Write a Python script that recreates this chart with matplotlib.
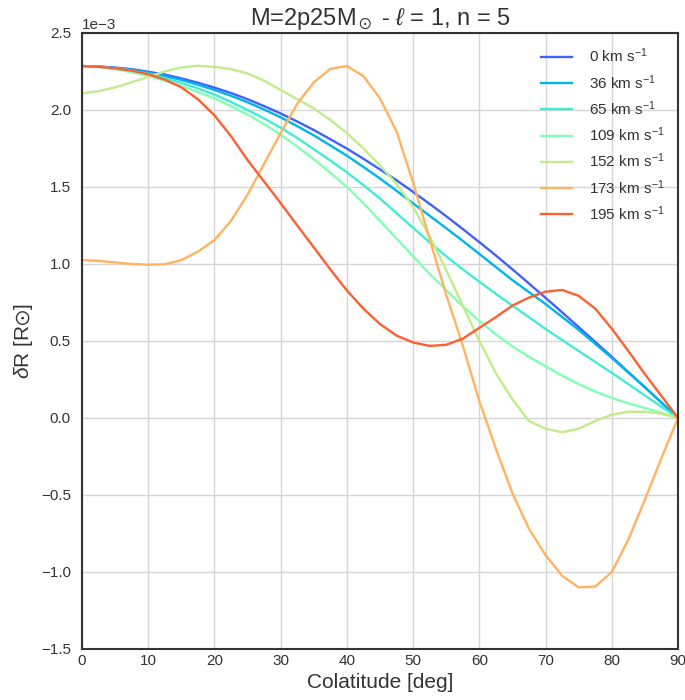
import matplotlib
matplotlib.use('Agg')
import matplotlib.pyplot as plt
import numpy as np

# fuentes tipo Arial
plt.rcParams['font.family'] = ['Liberation Sans', 'DejaVu Sans']
plt.rcParams['mathtext.fontset'] = 'custom'
plt.rcParams['mathtext.rm'] = 'Liberation Sans'
plt.rcParams['mathtext.it'] = 'Liberation Sans:italic'
plt.rcParams['mathtext.fallback'] = 'stixsans'

# colatitud (grados)
theta = [0, 2.5, 5, 7.5, 10, 12.5, 15, 17.5, 20, 22.5, 25, 27.5, 30, 32.5, 35, 37.5,
         40, 42.5, 45, 47.5, 50, 52.5, 55, 57.5, 60, 62.5, 65, 67.5, 70, 72.5, 75,
         77.5, 80, 82.5, 85, 87.5, 90]

# dR en unidades de 1e-3 Rsun
dr_0 = [2.285, 2.283, 2.275, 2.265, 2.248, 2.23, 2.205, 2.177, 2.145, 2.11, 2.07,
        2.025, 1.977, 1.925, 1.87, 1.81, 1.749, 1.683, 1.614, 1.543, 1.468, 1.39,
        1.31, 1.227, 1.142, 1.055, 0.965, 0.873, 0.78, 0.686, 0.59, 0.494, 0.397,
        0.298, 0.199, 0.1, 0.0]
dr_36 = [2.285, 2.282, 2.273, 2.26, 2.243, 2.22, 2.195, 2.164, 2.13, 2.092, 2.05,
         2.003, 1.952, 1.895, 1.835, 1.77, 1.703, 1.63, 1.555, 1.475, 1.393, 1.313,
         1.232, 1.15, 1.065, 0.98, 0.895, 0.817, 0.74, 0.656, 0.572, 0.481, 0.39,
         0.295, 0.20, 0.1, 0.0]
dr_65 = [2.285, 2.28, 2.27, 2.255, 2.235, 2.207, 2.175, 2.14, 2.10, 2.052, 2.00,
         1.945, 1.885, 1.818, 1.745, 1.672, 1.595, 1.512, 1.425, 1.33, 1.235, 1.14,
         1.05, 0.965, 0.885, 0.806, 0.73, 0.654, 0.578, 0.506, 0.435, 0.364, 0.293,
         0.22, 0.146, 0.073, 0.0]
dr_109 = [2.285, 2.28, 2.265, 2.245, 2.22, 2.19, 2.155, 2.117, 2.075, 2.025, 1.97,
          1.908, 1.84, 1.762, 1.68, 1.593, 1.50, 1.395, 1.28, 1.165, 1.05, 0.935,
          0.83, 0.725, 0.63, 0.543, 0.465, 0.397, 0.335, 0.275, 0.22, 0.172, 0.13,
          0.095, 0.065, 0.033, 0.0]
dr_152 = [2.108, 2.122, 2.147, 2.18, 2.215, 2.25, 2.276, 2.287, 2.28, 2.265, 2.237,
          2.19, 2.13, 2.07, 2.01, 1.935, 1.85, 1.75, 1.64, 1.52, 1.37, 1.18, 0.96,
          0.73, 0.50, 0.29, 0.12, -0.02, -0.07, -0.093, -0.07, -0.02, 0.022, 0.04,
          0.04, 0.028, 0.0]
dr_173 = [1.025, 1.02, 1.01, 1.0, 0.995, 0.998, 1.025, 1.08, 1.155, 1.28, 1.45, 1.65,
          1.85, 2.04, 2.18, 2.267, 2.285, 2.22, 2.075, 1.86, 1.53, 1.16, 0.80, 0.47,
          0.11, -0.20, -0.49, -0.72, -0.89, -1.025, -1.10, -1.095, -1.00, -0.79,
          -0.53, -0.26, 0.0]
dr_195 = [2.285, 2.28, 2.27, 2.255, 2.232, 2.197, 2.147, 2.07, 1.965, 1.83, 1.675,
          1.535, 1.395, 1.25, 1.108, 0.965, 0.828, 0.71, 0.61, 0.535, 0.49, 0.468,
          0.475, 0.515, 0.585, 0.655, 0.73, 0.782, 0.82, 0.831, 0.793, 0.71, 0.58,
          0.435, 0.285, 0.143, 0.0]

velocities = [0, 36, 65, 109, 152, 173, 195]
ys = [dr_0, dr_36, dr_65, dr_109, dr_152, dr_173, dr_195]

dark = '#333333'
fig = plt.figure(figsize=(6.85, 7.0), dpi=100)
ax = fig.add_axes([0.1197, 0.0729, 0.8701, 0.88])

colors = plt.cm.rainbow(np.linspace(0, 1, 9)[1:-1])
for y, v, c in zip(ys, velocities, colors):
    ax.plot(theta, np.array(y) * 1e-3, color=c, lw=1.7,
            solid_joinstyle='round', label=str(v) + r' km s$^{-1}$')

ax.set_xlim(0, 90)
ax.set_ylim(-1.5e-3, 2.5e-3)
ax.set_xticks(range(0, 91, 10))
ax.ticklabel_format(axis='y', style='sci', scilimits=(0, 0))
ax.grid(True, color='#d5d5d5', lw=1)
ax.set_axisbelow(True)
for s in ax.spines.values():
    s.set_color(dark)
    s.set_linewidth(1.5)
ax.tick_params(length=0, labelsize=11, colors=dark)
ax.tick_params(axis='y', pad=8)
ax.yaxis.get_offset_text().set_fontsize(11)
ax.yaxis.get_offset_text().set_color(dark)

ax.set_xlabel('Colatitude [deg]', fontsize=15, color=dark)
ax.set_ylabel(r'$\delta$R [R$\odot$]', fontsize=15, color=dark)
ax.set_title(r'M=2p25M$_\odot$ - $\ell$ = 1, n = 5', fontsize=17, color=dark)

leg = ax.legend(loc='upper right', frameon=False, fontsize=11,
                handlelength=2.0, handletextpad=1.1)
for t in leg.get_texts():
    t.set_color(dark)

fig.savefig('out.png', dpi=100)
